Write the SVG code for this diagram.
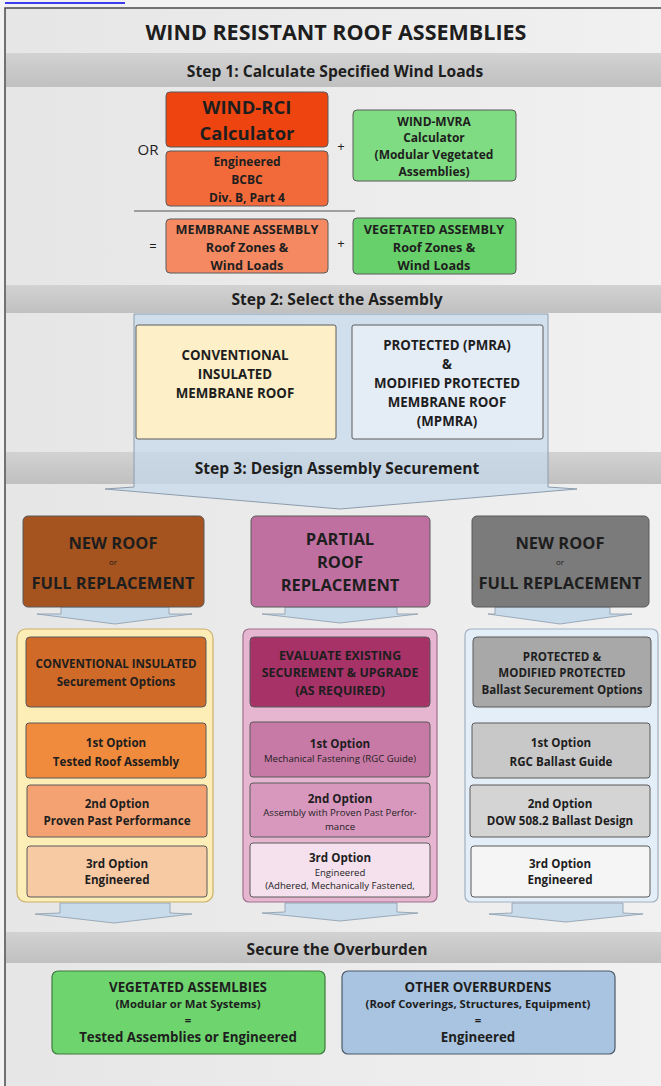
<svg xmlns="http://www.w3.org/2000/svg" width="661" height="1086" viewBox="0 0 661 1086">
<defs>
<linearGradient id="bg" x1="0" y1="0" x2="1" y2="0"><stop offset="0" stop-color="#e6e6e6"/><stop offset="1" stop-color="#f1f1f1"/></linearGradient>
<linearGradient id="band" x1="0" y1="0" x2="0" y2="1"><stop offset="0" stop-color="#d2d2d2"/><stop offset="1" stop-color="#c0c0c0"/></linearGradient>
</defs>
<style>
text{font-family:"Open Sans","Liberation Sans",sans-serif;font-weight:bold;text-anchor:middle;fill:#1e1e1e}
.t16{font-size:15.6px}
.s12{font-size:12px}
.s113{font-size:11.3px}
.s11{font-size:11.6px}
.s7{font-size:9.6px;font-weight:normal}
.big{font-size:16.5px}
.b13{font-size:13.3px}
.box{stroke:#5a5a5a;stroke-width:1}
.cont{stroke-width:1.2}
.la{fill:#c8dbeb;stroke:#8a9aaa;stroke-width:0.8}
.sym{font-weight:normal}
</style>
<rect x="0" y="0" width="661" height="1086" fill="#f2f2f2"/>
<line x1="5" y1="3" x2="125" y2="3" stroke="#0000ee" stroke-width="1.5"/>
<rect x="5" y="8" width="670" height="1090" fill="url(#bg)" stroke="#4a4a4a" stroke-width="1.5"/>

<g id="title"><text x="336" y="40" style="font-size:21.5px">WIND RESISTANT ROOF ASSEMBLIES</text></g>

<g id="step1-band"><rect x="6" y="53" width="660" height="34" fill="url(#band)"/><text class="t16" x="335" y="77">Step 1: Calculate Specified Wind Loads</text></g>

<g id="connectors">
<text class="sym" x="148" y="155" style="font-size:15px">OR</text>
<text class="sym" x="341" y="151" style="font-size:13px">+</text>
<line x1="134" y1="211" x2="355" y2="211" stroke="#555" stroke-width="1.2"/>
<text class="sym" x="153" y="251" style="font-size:13px">=</text>
<text class="sym" x="341" y="248" style="font-size:13px">+</text>
<polygon points="80,710 155,710 117,721" fill="#d26a28"/>
<polygon points="312,708 377,708 344,719" fill="#a83468"/>
<polygon points="535,711 603,711 569,722" fill="#c4c4c4"/>
<polygon class="la" points="61,607 169,607 169,614 192,614 115,624 37,614 61,614"/>
<polygon class="la" points="285,607 397,607 397,614 418,614 340,623 262,614 285,614"/>
<polygon class="la" points="495,607 610,607 610,614 632,614 560,624 488,614 495,614"/>
<polygon class="la" points="60,903 170,903 170,913 192,914 114,923 35,914 60,913"/>
<polygon class="la" points="285,903 397,903 397,912 418,913 340,921 262,913 285,912"/>
<polygon class="la" points="512,903 623,903 623,913 643,914 566,922 489,914 512,913"/>
</g>

<g id="wind-rci"><rect class="box" x="166" y="92" width="162" height="55" rx="4" fill="#ee4510"/><text x="247" y="114" style="font-size:18.5px">WIND-RCI</text><text x="247" y="140" style="font-size:18.5px">Calculator</text></g>
<g id="engineered"><rect class="box" x="166" y="151" width="162" height="55" rx="4" fill="#f26a3a"/><text class="s12" x="247" y="166">Engineered</text><text class="s12" x="247" y="184">BCBC</text><text class="s12" x="247" y="202">Div. B, Part 4</text></g>
<g id="wind-mvra"><rect class="box" x="353" y="110" width="163" height="71" rx="4" fill="#80dc82"/><text class="s12" x="434" y="126">WIND-MVRA</text><text class="s12" x="434" y="142">Calculator</text><text class="s12" x="434" y="159">(Modular Vegetated</text><text class="s12" x="434" y="176">Assemblies)</text></g>
<g id="membrane-assembly"><rect class="box" x="166" y="219" width="162" height="54" rx="4" fill="#f58a62"/><text x="247" y="234" style="font-size:12.7px">MEMBRANE ASSEMBLY</text><text x="247" y="252" style="font-size:12.7px">Roof Zones &amp;</text><text x="247" y="270" style="font-size:12.7px">Wind Loads</text></g>
<g id="vegetated-assembly"><rect class="box" x="353" y="218" width="163" height="56" rx="4" fill="#68d06a"/><text x="434" y="234" style="font-size:12.7px">VEGETATED ASSEMBLY</text><text x="434" y="252" style="font-size:12.7px">Roof Zones &amp;</text><text x="434" y="270" style="font-size:12.7px">Wind Loads</text></g>

<g id="step2-band"><rect x="6" y="285" width="660" height="28" fill="url(#band)"/><text class="t16" x="337" y="305">Step 2: Select the Assembly</text></g>
<g id="step3-band"><rect x="6" y="452" width="660" height="32" fill="url(#band)"/></g>
<g id="big-arrow"><polygon points="134,314 548,314 548,487 577,489 340,509 105,489 134,487" fill="#c6d9eb" fill-opacity="0.72" stroke="#8c9cac" stroke-width="1"/><text class="t16" x="337" y="474">Step 3: Design Assembly Securement</text></g>

<g id="conventional"><rect class="box" x="136" y="325" width="200" height="114" rx="2" fill="#fdf0c8"/><text class="b13" x="235" y="360">CONVENTIONAL</text><text class="b13" x="235" y="379">INSULATED</text><text class="b13" x="235" y="398">MEMBRANE ROOF</text></g>
<g id="protected"><rect class="box" x="352" y="325" width="191" height="114" rx="2" fill="#e4ecf6"/><text class="b13" x="447" y="350">PROTECTED (PMRA)</text><text class="b13" x="447" y="369">&amp;</text><text class="b13" x="447" y="388">MODIFIED PROTECTED</text><text class="b13" x="447" y="407">MEMBRANE ROOF</text><text class="b13" x="447" y="426">(MPMRA)</text></g>

<g id="new-roof-left"><rect class="box" x="23" y="516" width="181" height="91" rx="5" fill="#a5531f" stroke="#3a2a1a"/><text class="big" x="113" y="549">NEW  ROOF</text><text x="113" y="565" style="font-size:8px;font-weight:normal">or</text><text class="big" x="113" y="589">FULL REPLACEMENT</text></g>
<g id="partial-roof"><rect class="box" x="251" y="516" width="179" height="91" rx="5" fill="#c070a0"/><text class="big" x="340" y="545">PARTIAL</text><text class="big" x="340" y="568">ROOF</text><text class="big" x="340" y="591">REPLACEMENT</text></g>
<g id="new-roof-right"><rect class="box" x="472" y="516" width="177" height="91" rx="5" fill="#7b7b7b" stroke="#3a3a3a"/><text class="big" x="560" y="549">NEW  ROOF</text><text x="560" y="565" style="font-size:8px;font-weight:normal">or</text><text class="big" x="560" y="589">FULL REPLACEMENT</text></g>

<g id="col-left">
<rect class="cont" x="17" y="629" width="196" height="273" rx="9" fill="#fdedb6" stroke="#c9b06a"/>
<rect class="box" x="26" y="637" width="180" height="70" rx="4" fill="#cf6a28"/><text class="s11" x="116" y="668">CONVENTIONAL INSULATED</text><text class="s11" x="116" y="686">Securement Options</text>
<rect class="box" x="26" y="723" width="180" height="55" rx="3" fill="#f08a3c"/><text class="s11" x="116" y="747">1st Option</text><text class="s11" x="116" y="766">Tested Roof Assembly</text>
<rect class="box" x="27" y="785" width="180" height="52" rx="3" fill="#f4a272"/><text class="s11" x="117" y="808">2nd Option</text><text class="s11" x="117" y="825">Proven Past Performance</text>
<rect class="box" x="27" y="846" width="180" height="51" rx="3" fill="#f8caa4"/><text class="s11" x="117" y="868">3rd Option</text><text class="s11" x="117" y="884">Engineered</text>
</g>
<g id="col-middle">
<rect class="cont" x="243" y="629" width="194" height="273" rx="6" fill="#e6b6d0" stroke="#a07090"/>
<rect class="box" x="250" y="637" width="180" height="70" rx="4" fill="#a63268"/><text x="340" y="660" style="font-size:12.4px">EVALUATE EXISTING</text><text x="340" y="677" style="font-size:12.4px">SECUREMENT &amp; UPGRADE</text><text x="340" y="695" style="font-size:12.4px">(AS REQUIRED)</text>
<rect class="box" x="250" y="722" width="180" height="55" rx="3" fill="#c87aa6"/><text class="s11" x="340" y="748">1st Option</text><text class="s7" x="340" y="762">Mechanical Fastening (RGC Guide)</text>
<rect class="box" x="250" y="783" width="180" height="54" rx="3" fill="#d898be"/><text class="s11" x="340" y="803">2nd Option</text><text class="s7" x="340" y="816">Assembly with Proven Past Perfor-</text><text class="s7" x="340" y="830">mance</text>
<rect class="box" x="250" y="843" width="180" height="54" rx="3" fill="#f4e1ed"/><text class="s11" x="340" y="862">3rd Option</text><text class="s7" x="340" y="876">Engineered</text><text class="s7" x="340" y="889">(Adhered, Mechanically Fastened,</text>
</g>
<g id="col-right">
<rect class="cont" x="465" y="629" width="193" height="273" rx="6" fill="#e4eef8" stroke="#a0b0c0"/>
<rect class="box" x="473" y="637" width="178" height="70" rx="4" fill="#a8a8a8"/><text class="s11" x="562" y="661">PROTECTED &amp;</text><text class="s11" x="562" y="677">MODIFIED PROTECTED</text><text class="s11" x="562" y="694">Ballast Securement Options</text>
<rect class="box" x="472" y="723" width="178" height="55" rx="3" fill="#c8c8c8"/><text class="s11" x="561" y="747">1st Option</text><text class="s11" x="561" y="766">RGC Ballast Guide</text>
<rect class="box" x="470" y="785" width="180" height="52" rx="3" fill="#d4d4d4"/><text class="s11" x="560" y="808">2nd Option</text><text class="s11" x="560" y="825">DOW 508.2 Ballast Design</text>
<rect class="box" x="471" y="846" width="179" height="51" rx="3" fill="#f5f5f5"/><text class="s11" x="560" y="868">3rd Option</text><text class="s11" x="560" y="884">Engineered</text>
</g>

<g id="overburden-band"><rect x="6" y="932" width="660" height="31" fill="url(#band)"/><text class="t16" x="337" y="955">Secure the Overburden</text></g>
<g id="vegetated-assemblies"><rect x="52" y="971" width="273" height="83" rx="6" fill="#6ed46e" stroke="#3c7a3c" stroke-width="1.2"/><text x="188" y="992" style="font-size:13.3px">VEGETATED ASSEMLBIES</text><text class="s113" x="188" y="1008">(Modular or Mat Systems)</text><text class="s113" x="188" y="1024">=</text><text x="188" y="1042" style="font-size:13.3px">Tested Assemblies or Engineered</text></g>
<g id="other-overburdens"><rect x="342" y="971" width="273" height="83" rx="6" fill="#a8c4e0" stroke="#4c5a6a" stroke-width="1.2"/><text x="478" y="992" style="font-size:13.3px">OTHER OVERBURDENS</text><text class="s113" x="478" y="1008">(Roof Coverings, Structures, Equipment)</text><text class="s113" x="478" y="1024">=</text><text x="478" y="1042" style="font-size:13.3px">Engineered</text></g>
</svg>
